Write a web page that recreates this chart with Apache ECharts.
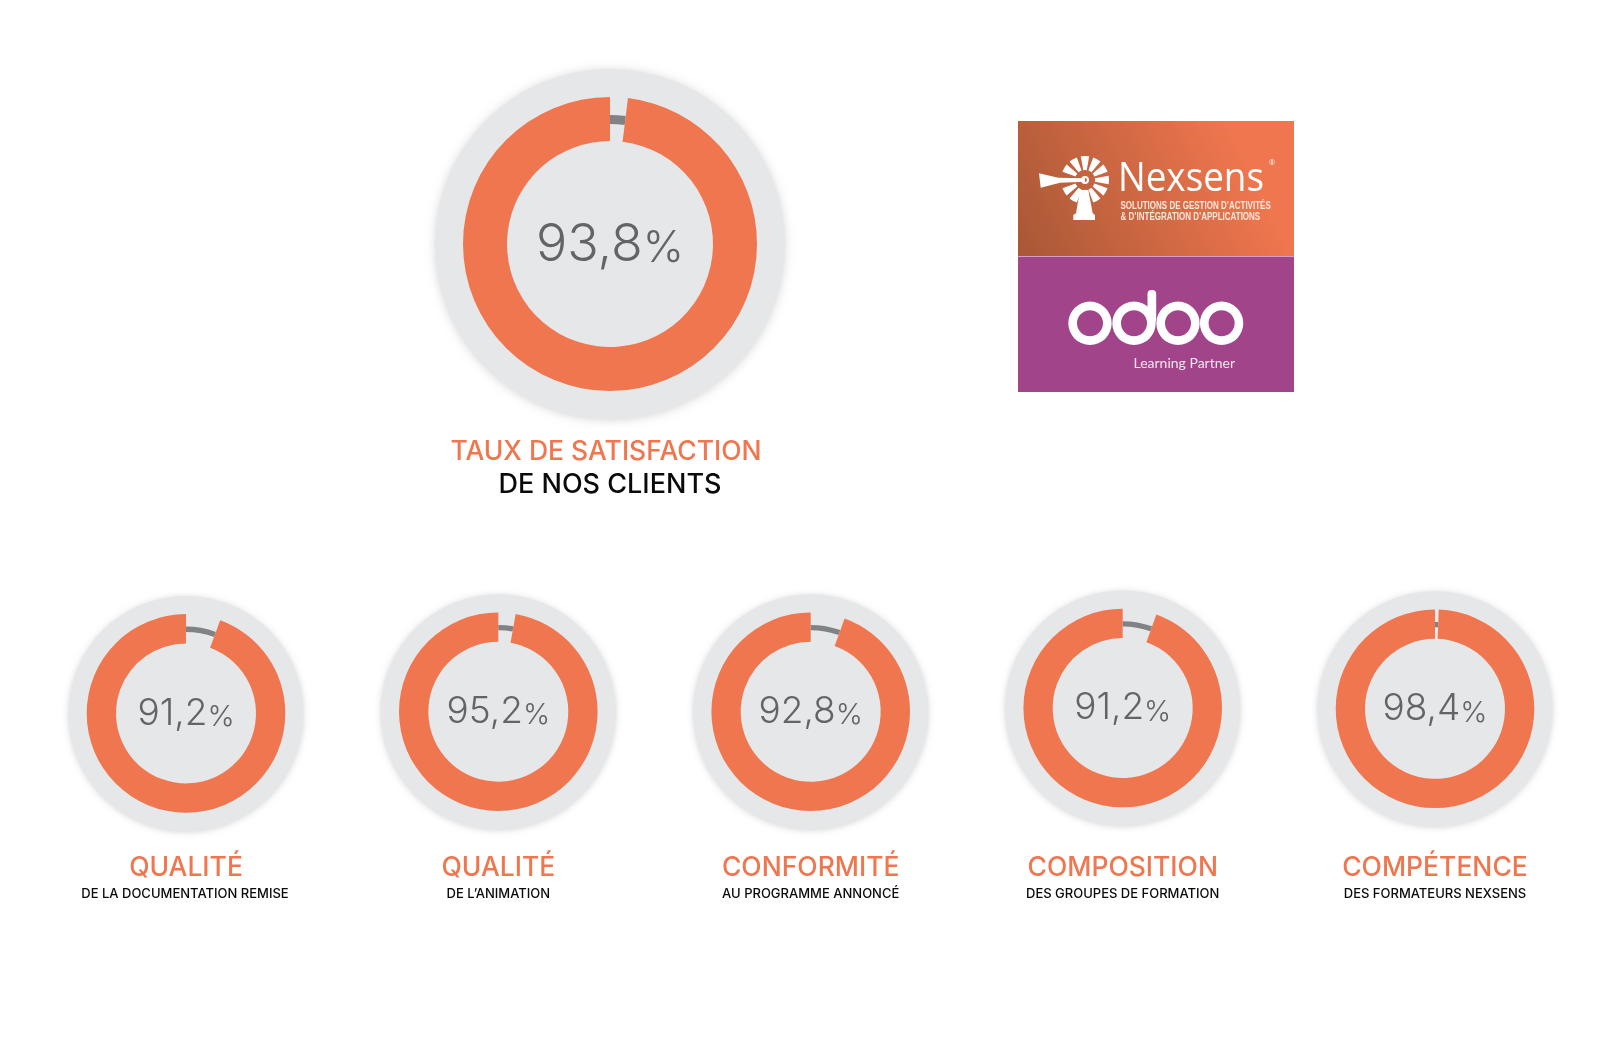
<!DOCTYPE html>
<html><head><meta charset="utf-8">
<style>html,body{margin:0;padding:0;background:#fff}#c{width:1597px;height:1042px}</style>
<script src="https://cdn.jsdelivr.net/npm/echarts@6/dist/echarts.min.js"></script>
</head><body><div id="c"></div>
<script>
// DATA
const headlines = ['TAUX DE SATISFACTION','QUALITÉ','QUALITÉ','CONFORMITÉ','COMPOSITION','COMPÉTENCE'];
const sublines = ['DE NOS CLIENTS','DE LA DOCUMENTATION REMISE',"DE L’ANIMATION",'AU PROGRAMME ANNONCÉ','DES GROUPES DE FORMATION','DES FORMATEURS NEXSENS'];
const scoreLabels = ['93,8','91,2','95,2','92,8','91,2','98,4'];
// share of the ring actually painted orange
const paintedShare = [98.05,94.4,97.2,94.45,94.5,99.4];

// LAYOUT
const centersX = [610,186,498.3,810.7,1122.7,1435];
const centersY = [244,713.4,711.7,711.7,708,708.8];
const FONT = 'Inter, "Open Sans", sans-serif';
const ORANGE = '#ef764e';
const big = {disc:175, outer:147, inner:103, g0:120, g1:129, num:52, pct:44, dy:1, blur:10};
const small = {disc:117.5, outer:99.3, inner:70, g0:81.5, g1:86.8, num:37, pct:29, dy:0, blur:6};

const series = [], graphic = [];
paintedShare.forEach((share,i)=>{
  const g = i===0 ? big : small;
  const center = [centersX[i],centersY[i]];
  const base = {type:'pie',center,silent:true,animation:false,label:{show:false},labelLine:{show:false},emphasis:{disabled:true}};
  series.push({...base,z:1,radius:[0,g.disc],
    data:[{value:1,name:scoreLabels[i],itemStyle:{color:'#e6e7e8',shadowBlur:g.blur,shadowColor:'rgba(0,0,0,0.16)',shadowOffsetY:1}}],
    label:{show:true,position:'center',offset:[0,g.dy],formatter:'{n|'+scoreLabels[i]+'}{p|%}',
      rich:{n:{fontFamily:FONT,fontWeight:300,fontSize:g.num,color:'#636466',lineHeight:g.num,verticalAlign:'bottom'},
            p:{fontFamily:FONT,fontWeight:300,fontSize:g.pct,color:'#636466',lineHeight:g.num,verticalAlign:'bottom'}}}});
  series.push({...base,z:2,radius:[g.g0,g.g1],startAngle:90,clockwise:true,
    data:[{value:100-share,itemStyle:{color:'#808285'}},{value:share,itemStyle:{color:'transparent'}}]});
  series.push({...base,z:3,radius:[g.inner,g.outer],startAngle:90,clockwise:false,
    data:[{value:share,itemStyle:{color:ORANGE}},{value:100-share,itemStyle:{color:'transparent'}}]});
  const t=(text,x,y,size,w,color)=>graphic.push({type:'text',x,y,style:{text,font:w+' '+size+'px '+FONT,fill:color,align:'center',verticalAlign:'middle'}});
  if(i===0){ t(headlines[i],606,452,26.5,500,ORANGE); t(sublines[i],610,484.5,27,500,'#0a0a0a'); }
  else { t(headlines[i],centersX[i],868,26.5,500,ORANGE); t(sublines[i],centersX[i]-(i===1?1:0),894,13,500,'#0a0a0a'); }
});

// LOGO PANELS
const W='#ffffff';
graphic.push({type:'rect',shape:{x:1018,y:121,width:276,height:135},style:{fill:new echarts.graphic.LinearGradient(0,1,1,0,[{offset:0,color:'#a85736'},{offset:.8,color:'#ef764e'},{offset:1,color:'#ef764e'}])}});
graphic.push({type:'rect',shape:{x:1018,y:256.5,width:276,height:135.5},style:{fill:'#a2448a'}});
const cx=1085,cy=180;
for(let k=0;k<12;k++){
  if(k===6) continue;
  const mid=k*Math.PI/6, half=0.175;
  graphic.push({type:'sector',shape:{cx,cy,r:24,r0:10,startAngle:mid-half,endAngle:mid+half},style:{fill:W}});
}
graphic.push({type:'polygon',shape:{points:[[1039,173.3],[1058.3,177.7],[1085,178.3],[1085,181.7],[1060,182.7],[1040.7,187.7]]},style:{fill:W}});
graphic.push({type:'ring',shape:{cx,cy,r:4,r0:2},style:{fill:W}});
graphic.push({type:'polygon',shape:{points:[[1080,190],[1088.3,190],[1092.7,213.3],[1095,215],[1095,220],[1073.3,220],[1073.3,215],[1076,213.3]]},style:{fill:W}});
graphic.push({type:'text',x:1118,y:200,scaleX:0.92,style:{text:'Nexsens',font:'400 40px "Open Sans"',fill:W,align:'left',verticalAlign:'bottom'}});
graphic.push({type:'text',x:1269,y:163,style:{text:'®',font:'400 7px "Open Sans"',fill:W,align:'left',verticalAlign:'middle'}});
graphic.push({type:'text',x:1120.5,y:206.5,scaleX:0.8,style:{text:'SOLUTIONS DE GESTION D’ACTIVITÉS',font:'700 10px "Liberation Sans"',fill:'#fbe6dc',align:'left',verticalAlign:'middle'}});
graphic.push({type:'text',x:1120.5,y:217.5,scaleX:0.8,style:{text:'& D’INTÉGRATION D’APPLICATIONS',font:'700 10px "Liberation Sans"',fill:'#fbe6dc',align:'left',verticalAlign:'middle'}});
[1090,1134,1178,1221.6].forEach(x=>graphic.push({type:'ring',shape:{cx:x,cy:323.3,r:21.7,r0:13},style:{fill:W}}));
graphic.push({type:'rect',shape:{x:1147.5,y:290,width:8.7,height:33,r:4},style:{fill:W}});
graphic.push({type:'text',x:1133.5,y:363.5,style:{text:'Learning Partner',font:'400 14px Lato',fill:'#f2e6ef',align:'left',verticalAlign:'middle'}});

const chart = echarts.init(document.getElementById('c'));
chart.setOption({animation:false,backgroundColor:'#fff',series,graphic});
</script></body></html>
